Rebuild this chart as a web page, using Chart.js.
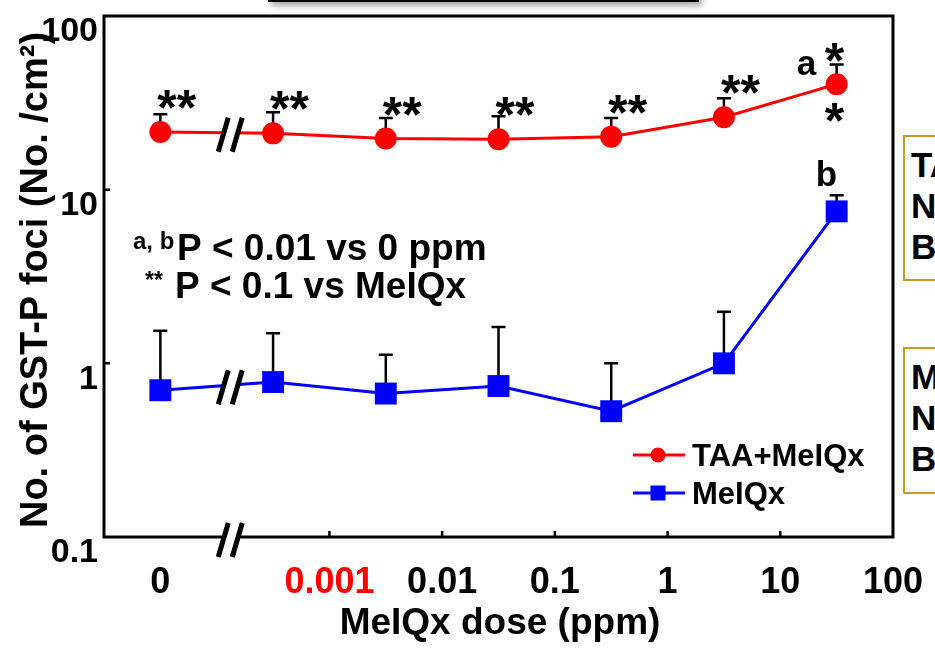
<!DOCTYPE html>
<html>
<head>
<meta charset="utf-8">
<script src="https://cdn.jsdelivr.net/npm/chart.js@4/dist/chart.umd.min.js"></script>
<style>
  html, body { margin: 0; padding: 0; background: #fff; width: 935px; height: 650px; overflow: hidden; }
  #wrap { position: relative; width: 935px; height: 650px; overflow: hidden; }
  canvas { position: absolute; left: 0; top: 0; }
  .topbox { position: absolute; left: 268px; top: -40px; width: 425px; height: 36px; border: 3px solid #000; background: #fff; box-shadow: 3px 4px 6px rgba(0,0,0,0.35); }
  .sidebox { position: absolute; left: 903px; width: 120px; border: 2px solid #C99A1E; background: #fff;
             font: bold 35px "Liberation Sans", Arial, sans-serif; color: #000; line-height: 41px; padding: 7px 0 0 6px; white-space: nowrap; box-sizing: border-box; }
</style>
</head>
<body>
<div id="wrap">
  <canvas id="c" width="935" height="650"></canvas>
  <div class="topbox"></div>
  <div class="sidebox" style="top:135px;height:146px;">TAA+MeIQx<br>N<br>B</div>
  <div class="sidebox" style="top:347px;height:147px;">MeIQx<br>N<br>B</div>
</div>
<script>
// ---- data ----
// x position of each dose group on the log10(dose) axis; the "0 ppm" group sits left of the axis break
const xPositions = [-4.5, -3.5, -2.5, -1.5, -0.5, 0.5, 1.5];
const taaMeIQxMean  = [21.5, 21.1, 19.7, 19.5, 20.2, 26.1, 40.5];
const taaMeIQxUpper = [27.2, 27.9, 25.9, 26.5, 25.9, 33.6, 52.6];
const meIQxMean     = [0.70, 0.78, 0.67, 0.74, 0.53, 1.00, 7.5];
const meIQxUpper    = [1.54, 1.49, 1.12, 1.62, 1.00, 1.98, 9.3];
const taaMarks      = ['**', '**', '**', '**', '**', '**', '*'];
const xTickValues   = [-4.5, -3, -2, -1, 0, 1, 2];
const xTickLabels   = ['0', '0.001', '0.01', '0.1', '1', '10', '100'];
const xTickMarks    = [-3, -2, -1, 0, 1];
const yTickValues   = [0.1, 1, 10, 100];
const yTickLabels   = ['0.1', '1', '10', '100'];
const seriesNames   = ['TAA+MeIQx', 'MeIQx'];

const RED = '#FF0000', BLUE = '#0000FF';
const FONT = '"Liberation Sans", Arial, sans-serif';
const breakX = -3.88;

function toPts(xs, ys) { return xs.map((x, i) => ({ x: x, y: ys[i] })); }

function drawBreak(ctx, cx, cy) {
  ctx.save();
  ctx.fillStyle = '#fff';
  ctx.beginPath();
  ctx.moveTo(cx - 12, cy + 17);
  ctx.lineTo(cx - 2, cy - 17);
  ctx.lineTo(cx + 12, cy - 17);
  ctx.lineTo(cx + 2, cy + 17);
  ctx.closePath();
  ctx.fill();
  ctx.strokeStyle = '#000';
  ctx.lineWidth = 5;
  ctx.lineCap = 'butt';
  ctx.beginPath();
  ctx.moveTo(cx - 12, cy + 17); ctx.lineTo(cx - 2, cy - 17);
  ctx.moveTo(cx + 2, cy + 17); ctx.lineTo(cx + 12, cy - 17);
  ctx.stroke();
  ctx.restore();
}

const decor = {
  id: 'decor',
  beforeDatasetsDraw(chart) {
    const ctx = chart.ctx, xs = chart.scales.x, ys = chart.scales.y;
    ctx.save();
    ctx.strokeStyle = '#000';
    ctx.lineWidth = 2.5;
    [[taaMeIQxMean, taaMeIQxUpper], [meIQxMean, meIQxUpper]].forEach(([m, u]) => {
      xPositions.forEach((xv, i) => {
        const px = xs.getPixelForValue(xv);
        const y0 = ys.getPixelForValue(m[i]);
        const y1 = ys.getPixelForValue(u[i]);
        ctx.beginPath();
        ctx.moveTo(px, y0); ctx.lineTo(px, y1);
        ctx.moveTo(px - 7, y1); ctx.lineTo(px + 7, y1);
        ctx.stroke();
      });
    });
    ctx.restore();
  },
  afterDatasetsDraw(chart) {
    const ctx = chart.ctx, xs = chart.scales.x, ys = chart.scales.y, a = chart.chartArea;
    ctx.save();
    // frame
    ctx.strokeStyle = '#000';
    ctx.lineWidth = 3;
    ctx.strokeRect(a.left, a.top, a.right - a.left, a.bottom - a.top);
    // inner tick marks
    ctx.lineWidth = 2.5;
    ctx.beginPath();
    xTickMarks.forEach(v => {
      const px = xs.getPixelForValue(v);
      ctx.moveTo(px, a.bottom); ctx.lineTo(px, a.bottom - 6);
    });
    [1, 10].forEach(v => {
      const py = ys.getPixelForValue(v);
      ctx.moveTo(a.left, py); ctx.lineTo(a.left + 6, py);
    });
    ctx.stroke();

    // axis breaks
    const bx = xs.getPixelForValue(breakX);
    const interp = (arr) => {
      const p0x = xs.getPixelForValue(xPositions[0]), p1x = xs.getPixelForValue(xPositions[1]);
      const p0y = ys.getPixelForValue(arr[0]), p1y = ys.getPixelForValue(arr[1]);
      return p0y + (p1y - p0y) * (bx - p0x) / (p1x - p0x);
    };
    drawBreak(ctx, bx, interp(taaMeIQxMean) + 2);
    drawBreak(ctx, bx, interp(meIQxMean) + 2);
    drawBreak(ctx, bx, a.bottom + 3);

    // y tick labels
    ctx.fillStyle = '#000';
    ctx.font = 'bold 34px ' + FONT;
    ctx.textAlign = 'right';
    ctx.textBaseline = 'top';
    yTickValues.forEach((v, i) => {
      ctx.fillText(yTickLabels[i], a.left - 6, ys.getPixelForValue(v) - 1);
    });
    // x tick labels
    ctx.font = 'bold 36px ' + FONT;
    ctx.textAlign = 'center';
    ctx.textBaseline = 'alphabetic';
    xTickValues.forEach((v, i) => {
      ctx.fillStyle = xTickLabels[i] === '0.001' ? RED : '#000';
      ctx.fillText(xTickLabels[i], xs.getPixelForValue(v), 593);
    });
    // axis titles
    ctx.fillStyle = '#000';
    ctx.font = 'bold 37px ' + FONT;
    ctx.fillText('MeIQx dose (ppm)', 500, 634);
    ctx.save();
    ctx.translate(47, 280);
    ctx.rotate(-Math.PI / 2);
    ctx.font = 'bold 38px ' + FONT;
    ctx.textAlign = 'center';
    ctx.fillText('No. of GST-P foci (No. /cm\u00B2)', 0, 0);
    ctx.restore();

    // significance marks
    ctx.textAlign = 'left';
    ctx.textBaseline = 'alphabetic';
    ctx.font = 'bold 50px ' + FONT;
    xPositions.forEach((xv, i) => {
      const px = xs.getPixelForValue(xv), py = ys.getPixelForValue(taaMeIQxMean[i]);
      if (i < xPositions.length - 1) {
        ctx.fillText(taaMarks[i], px - 3, py - 7);
      } else {
        ctx.fillText(taaMarks[i], px - 12, py - 6);
        ctx.fillText('*', px - 12, py + 54);
        ctx.font = 'bold 35px ' + FONT;
        ctx.fillText('a', px - 40, py - 9);
      }
    });
    const lastB = xPositions.length - 1;
    ctx.font = 'bold 35px ' + FONT;
    ctx.fillText('b', xs.getPixelForValue(xPositions[lastB]) - 21, ys.getPixelForValue(meIQxMean[lastB]) - 25);

    // note text
    ctx.font = 'bold 24px ' + FONT;
    ctx.fillText('a, b', 133, 249);
    ctx.font = 'bold 37px ' + FONT;
    ctx.fillText('P < 0.01 vs 0 ppm', 177, 260);
    ctx.font = 'bold 23px ' + FONT;
    ctx.fillText('**', 145, 288);
    ctx.font = 'bold 37px ' + FONT;
    ctx.fillText('P < 0.1 vs MeIQx', 175, 298);

    // legend
    const rows = [455, 493];
    chart.data.datasets.forEach((ds, i) => {
      const y = rows[i];
      ctx.strokeStyle = ds.borderColor;
      ctx.lineWidth = 3;
      ctx.beginPath(); ctx.moveTo(633, y); ctx.lineTo(685, y); ctx.stroke();
      ctx.fillStyle = ds.borderColor;
      if (ds.pointStyle === 'circle') {
        ctx.beginPath(); ctx.arc(658, y, 7.5, 0, Math.PI * 2); ctx.fill();
      } else {
        ctx.fillRect(658 - 7.5, y - 7.5, 15, 15);
      }
      ctx.fillStyle = '#000';
      ctx.font = 'bold 31px ' + FONT;
      ctx.fillText(ds.label, 692, y + 11);
    });
    ctx.restore();
  }
};

new Chart(document.getElementById('c'), {
  type: 'line',
  data: {
    datasets: [
      { label: seriesNames[0], data: toPts(xPositions, taaMeIQxMean), borderColor: RED, backgroundColor: RED,
        borderWidth: 3, pointStyle: 'circle', pointRadius: 11, pointBorderWidth: 0, clip: false },
      { label: seriesNames[1], data: toPts(xPositions, meIQxMean), borderColor: BLUE, backgroundColor: BLUE,
        borderWidth: 3, pointStyle: 'rect', pointRadius: 15.5, pointBorderWidth: 0, clip: false }
    ]
  },
  options: {
    responsive: false,
    devicePixelRatio: 1,
    animation: false,
    layout: { padding: { left: 104, top: 16, right: 42, bottom: 113 } },
    scales: {
      x: { type: 'linear', min: -5, max: 2, display: false },
      y: { type: 'logarithmic', min: 0.1, max: 100, display: false }
    },
    plugins: { legend: { display: false }, tooltip: { enabled: false }, title: { display: false } }
  },
  plugins: [decor]
});
</script>
</body>
</html>
